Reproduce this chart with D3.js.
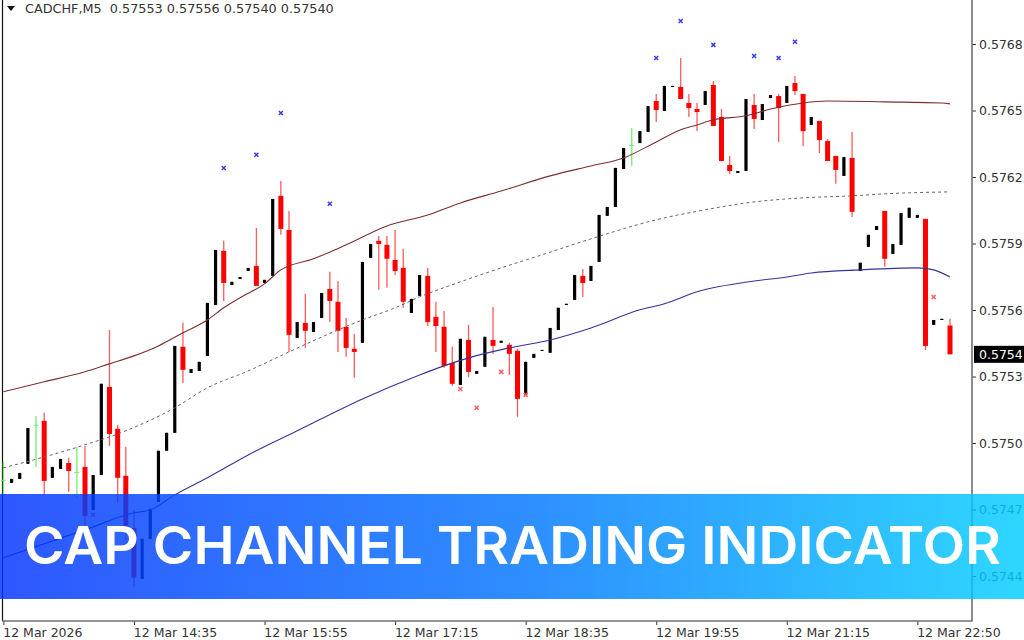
<!DOCTYPE html>
<html>
<head>
<meta charset="utf-8">
<script src="https://cdn.jsdelivr.net/npm/d3@7"></script>
<style>
  html, body { margin: 0; padding: 0; background: #fff; }
  svg { display: block; }
</style>
</head>
<body>
<div id="chart"></div>
<script>
// Chart values
var symbolTitle = 'CADCHF,M5  0.57553 0.57556 0.57540 0.57540';
var bannerTitle = 'CAP CHANNEL TRADING INDICATOR';
var priceTicks = [0.5768, 0.5765, 0.5762, 0.5759, 0.5756, 0.5753, 0.5750, 0.5747, 0.5744];
var lastPrice = 0.5754;
var timeTickBars = [0, 16, 32, 48, 64, 80, 96, 112];
var timeTickLabels = ['12 Mar 2026', '12 Mar 14:35', '12 Mar 15:55', '12 Mar 17:15', '12 Mar 18:35', '12 Mar 19:55', '12 Mar 21:15', '12 Mar 22:50'];

var opens = [0.574834, 0.574820, 0.574838, 0.574906, 0.575082, 0.575100, 0.574843, 0.574883, 0.574910, 0.574870,
  0.574892, 0.574698, 0.574856, 0.575253, 0.575064, 0.574852, 0.574617, 0.574387, 0.574568, 0.574734,
  0.574965, 0.575046, 0.575434, 0.575316, 0.575325, 0.575393, 0.575623, 0.575867, 0.575713, 0.575740,
  0.575776, 0.575799, 0.575722, 0.575754, 0.576115, 0.575961, 0.575474, 0.575542, 0.575501, 0.575564,
  0.575695, 0.575637, 0.575524, 0.575425, 0.575452, 0.575835, 0.575912, 0.575894, 0.575826, 0.575790,
  0.575587, 0.575664, 0.575754, 0.575569, 0.575524, 0.575361, 0.575262, 0.575465, 0.575312, 0.575344,
  0.575465, 0.575452, 0.575443, 0.575416, 0.575217, 0.575384, 0.575416, 0.575407, 0.575510, 0.575623,
  0.575646, 0.575754, 0.575731, 0.575817, 0.576025, 0.576065, 0.576236, 0.576344, 0.576353, 0.576403,
  0.576543, 0.576498, 0.576606, 0.576606, 0.576534, 0.576507, 0.576525, 0.576615, 0.576471, 0.576254,
  0.576218, 0.576227, 0.576525, 0.576457, 0.576556, 0.576565, 0.576534, 0.576624, 0.576575, 0.576435,
  0.576453, 0.576362, 0.576295, 0.576205, 0.576286, 0.575776, 0.575885, 0.575961, 0.576047, 0.575853,
  0.575894, 0.576016, 0.576016, 0.576011, 0.575533, 0.575555, 0.575530];
var highs = [0.574915, 0.574838, 0.574865, 0.575068, 0.575122, 0.575136, 0.574892, 0.574928, 0.574933, 0.574983,
  0.574987, 0.574856, 0.575267, 0.575510, 0.575082, 0.574983, 0.574698, 0.574568, 0.574703, 0.574965,
  0.575046, 0.575438, 0.575542, 0.575334, 0.575366, 0.575632, 0.575871, 0.575912, 0.575727, 0.575749,
  0.575790, 0.575970, 0.575736, 0.576101, 0.576182, 0.576047, 0.575546, 0.575673, 0.575546, 0.575677,
  0.575772, 0.575731, 0.575564, 0.575492, 0.575817, 0.575898, 0.575934, 0.575934, 0.575961, 0.575876,
  0.575650, 0.575758, 0.575790, 0.575637, 0.575596, 0.575434, 0.575470, 0.575533, 0.575325, 0.575479,
  0.575614, 0.575461, 0.575452, 0.575425, 0.575366, 0.575402, 0.575420, 0.575519, 0.575610, 0.575628,
  0.575758, 0.575785, 0.575799, 0.576029, 0.576065, 0.576241, 0.576331, 0.576421, 0.576407, 0.576520,
  0.576575, 0.576611, 0.576611, 0.576737, 0.576575, 0.576534, 0.576588, 0.576633, 0.576507, 0.576295,
  0.576227, 0.576552, 0.576575, 0.576529, 0.576570, 0.576575, 0.576611, 0.576656, 0.576575, 0.576471,
  0.576453, 0.576371, 0.576295, 0.576290, 0.576403, 0.575813, 0.575939, 0.575979, 0.576047, 0.575898,
  0.576038, 0.576061, 0.576029, 0.576011, 0.575555, 0.575560, 0.575560];
var lows = [0.574766, 0.574820, 0.574838, 0.574906, 0.574892, 0.574766, 0.574843, 0.574883, 0.574780, 0.574753,
  0.574608, 0.574698, 0.574856, 0.574987, 0.574730, 0.574554, 0.574351, 0.574387, 0.574568, 0.574734,
  0.574965, 0.575046, 0.575271, 0.575316, 0.575325, 0.575393, 0.575623, 0.575641, 0.575713, 0.575740,
  0.575776, 0.575709, 0.575722, 0.575754, 0.575939, 0.575411, 0.575474, 0.575429, 0.575501, 0.575564,
  0.575546, 0.575411, 0.575389, 0.575294, 0.575452, 0.575835, 0.575691, 0.575700, 0.575758, 0.575610,
  0.575587, 0.575664, 0.575528, 0.575411, 0.575339, 0.575258, 0.575262, 0.575298, 0.575312, 0.575344,
  0.575402, 0.575452, 0.575307, 0.575118, 0.575217, 0.575384, 0.575416, 0.575407, 0.575510, 0.575623,
  0.575646, 0.575659, 0.575731, 0.575817, 0.576025, 0.576065, 0.576236, 0.576250, 0.576353, 0.576403,
  0.576448, 0.576498, 0.576606, 0.576552, 0.576471, 0.576407, 0.576525, 0.576430, 0.576272, 0.576214,
  0.576218, 0.576227, 0.576416, 0.576457, 0.576556, 0.576358, 0.576534, 0.576570, 0.576340, 0.576435,
  0.576308, 0.576272, 0.576169, 0.576205, 0.576020, 0.575776, 0.575885, 0.575961, 0.575795, 0.575853,
  0.575894, 0.576016, 0.576016, 0.575420, 0.575533, 0.575555, 0.575400];
var closes = [0.574834, 0.574838, 0.574865, 0.575068, 0.575082, 0.574829, 0.574892, 0.574928, 0.574874, 0.574870,
  0.574671, 0.574856, 0.575267, 0.575041, 0.574843, 0.574617, 0.574392, 0.574568, 0.574703, 0.574965,
  0.575046, 0.575438, 0.575330, 0.575334, 0.575366, 0.575632, 0.575871, 0.575722, 0.575727, 0.575749,
  0.575790, 0.575709, 0.575736, 0.576101, 0.575966, 0.575488, 0.575546, 0.575506, 0.575546, 0.575677,
  0.575641, 0.575506, 0.575429, 0.575411, 0.575817, 0.575898, 0.575898, 0.575831, 0.575776, 0.575637,
  0.575650, 0.575758, 0.575546, 0.575528, 0.575348, 0.575267, 0.575470, 0.575321, 0.575325, 0.575479,
  0.575438, 0.575461, 0.575402, 0.575199, 0.575366, 0.575402, 0.575420, 0.575519, 0.575610, 0.575628,
  0.575758, 0.575722, 0.575799, 0.576029, 0.576065, 0.576241, 0.576331, 0.576344, 0.576407, 0.576520,
  0.576502, 0.576611, 0.576611, 0.576552, 0.576511, 0.576493, 0.576588, 0.576430, 0.576272, 0.576227,
  0.576227, 0.576552, 0.576462, 0.576529, 0.576570, 0.576511, 0.576611, 0.576588, 0.576407, 0.576471,
  0.576367, 0.576272, 0.576232, 0.576290, 0.576043, 0.575813, 0.575939, 0.575979, 0.575831, 0.575898,
  0.576038, 0.576061, 0.576029, 0.575438, 0.575555, 0.575560, 0.575400];
// bars drawn as thin green crosses
var greenBars = [0, 4, 9, 77];

// channel lines, values at the bars where they were read
var upperBars = [0, 5, 10, 13, 16, 19, 22, 25, 27, 29, 32, 34, 38, 42, 47, 52, 56, 61, 67, 72, 76, 80, 83, 85, 87, 91, 94, 98, 101, 108, 115, 116];
var upperValues = [0.575231, 0.575276, 0.575321, 0.575357, 0.575393, 0.575438, 0.575497, 0.575555, 0.575610, 0.575655, 0.575718, 0.575781, 0.575831, 0.575894, 0.575979, 0.576029, 0.576083, 0.576137, 0.576205, 0.576250, 0.576286, 0.576358, 0.576413, 0.576435, 0.576458, 0.576476, 0.576507, 0.576534, 0.576543, 0.576539, 0.576534, 0.576530];
var middleBars = [0, 5, 10, 14, 21, 25, 30, 35, 41, 44, 48, 51, 56, 61, 66, 72, 80, 86, 91, 98, 104, 108, 116];
var middleValues = [0.574888, 0.574937, 0.574992, 0.575041, 0.575159, 0.575249, 0.575325, 0.575411, 0.575510, 0.575555, 0.575610, 0.575659, 0.575727, 0.575790, 0.575849, 0.575921, 0.576007, 0.576052, 0.576083, 0.576106, 0.576115, 0.576124, 0.576133];
var lowerBars = [0, 10, 16, 18, 21, 25, 30, 36, 44, 51, 54, 57, 62, 67, 72, 78, 81, 85, 92, 96, 99, 105, 112, 114, 116];
var lowerValues = [0.574482, 0.574608, 0.574685, 0.574698, 0.574766, 0.574843, 0.574946, 0.575055, 0.575199, 0.575307, 0.575348, 0.575384, 0.575429, 0.575465, 0.575519, 0.575601, 0.575628, 0.575682, 0.575731, 0.575749, 0.575767, 0.575781, 0.575790, 0.575781, 0.575749];

// signal crosses above and below the candles
var sellSignalBars = [27, 31, 34, 40, 80, 83, 87, 92, 95, 97];
var sellSignalValues = [0.576241, 0.576300, 0.576489, 0.576079, 0.576737, 0.576904, 0.576796, 0.576746, 0.576737, 0.576810];
var buySignalBars = [11, 56, 58, 61, 64, 114];
var buySignalValues = [0.574676, 0.575244, 0.575159, 0.575321, 0.575217, 0.575659];

var svgWidth = 1024;
var svgHeight = 640;
var axisRightX = 972;
var axisBottomY = 621;

var svg = d3.select('#chart')
  .append('svg')
  .attr('width', svgWidth)
  .attr('height', svgHeight)
  .style('font-family', '"DejaVu Sans", sans-serif');

var xScale = d3.scaleLinear().domain([0, 116]).range([3.4, 950]);
var yScale = d3.scaleLinear().domain([0.5768, 0.5744]).range([44, 576]);

var grad = svg.append('defs').append('linearGradient')
  .attr('id', 'bannerFill')
  .attr('x1', '0').attr('x2', '1').attr('y1', '0').attr('y2', '0');
grad.append('stop').attr('offset', '0').attr('stop-color', '#0032ff');
grad.append('stop').attr('offset', '0.5').attr('stop-color', '#0073ff');
grad.append('stop').attr('offset', '1').attr('stop-color', '#00ceff');

// frame
svg.append('line')
  .attr('x1', 2.5).attr('x2', 2.5).attr('y1', 0).attr('y2', axisBottomY)
  .attr('stroke', '#111').attr('stroke-width', 1.2);

// axes
var rightAxis = d3.axisRight(yScale)
  .tickValues(priceTicks)
  .tickFormat(d3.format('.4f'))
  .tickSize(4)
  .tickPadding(3);
var axisR = svg.append('g')
  .attr('transform', `translate(${axisRightX}, 0)`)
  .call(rightAxis);
axisR.select('.domain').remove();
axisR.selectAll('text').attr('font-size', 12.5).attr('font-family', '"DejaVu Sans", sans-serif').attr('fill', '#333');
axisR.selectAll('line').attr('stroke', '#333');

var bottomAxis = d3.axisBottom(xScale)
  .tickValues(timeTickBars)
  .tickFormat(function(d, i) { return timeTickLabels[i]; })
  .tickSize(4)
  .tickPadding(3);
var axisB = svg.append('g')
  .attr('transform', `translate(0, ${axisBottomY})`)
  .call(bottomAxis);
axisB.select('.domain').remove();
axisB.selectAll('text')
  .attr('font-size', 12.5)
  .attr('font-family', '"DejaVu Sans", sans-serif')
  .attr('fill', '#333')
  .attr('dx', -0.7)
  .attr('text-anchor', 'start');
axisB.selectAll('line').attr('stroke', '#333');

svg.append('path')
  .attr('d', `M${axisRightX},0V${axisBottomY}H2`)
  .attr('fill', 'none')
  .attr('stroke', '#707070')
  .attr('stroke-width', 1.6);

// candles
var bars = d3.range(opens.length);

var barColor = function(i) {
  if (greenBars.indexOf(i) >= 0) return '#74ee74';
  return closes[i] < opens[i] ? '#ff0000' : '#000000';
};

svg.append('g').selectAll('line')
  .data(bars)
  .enter()
  .append('line')
  .attr('x1', i => xScale(i))
  .attr('x2', i => xScale(i))
  .attr('y1', i => yScale(highs[i]))
  .attr('y2', i => yScale(lows[i]))
  .attr('stroke', i => closes[i] < opens[i] ? '#ff5a5a' : barColor(i))
  .attr('stroke-width', 1.3);

svg.append('g').selectAll('rect')
  .data(bars)
  .enter()
  .append('rect')
  .attr('x', function(i) {
    var w = greenBars.indexOf(i) >= 0 ? 5 : (closes[i] < opens[i] ? 5 : 3.2);
    return xScale(i) - w / 2;
  })
  .attr('width', function(i) {
    return greenBars.indexOf(i) >= 0 ? 5 : (closes[i] < opens[i] ? 5 : 3.2);
  })
  .attr('y', i => yScale(Math.max(opens[i], closes[i])))
  .attr('height', i => Math.max(1, Math.abs(yScale(opens[i]) - yScale(closes[i]))))
  .attr('fill', barColor);

// channel lines
var channelLine = function(barList, values) {
  return d3.line()
    .x(function(d, i) { return xScale(barList[i]); })
    .y(function(d) { return yScale(d); })
    .curve(d3.curveMonotoneX)(values);
};

svg.append('path')
  .attr('d', channelLine(upperBars, upperValues))
  .attr('fill', 'none')
  .attr('stroke', '#7d2f2f')
  .attr('stroke-width', 1.1);

svg.append('path')
  .attr('d', channelLine(middleBars, middleValues))
  .attr('fill', 'none')
  .attr('stroke', '#666')
  .attr('stroke-width', 1)
  .attr('stroke-dasharray', '3,3');

svg.append('path')
  .attr('d', channelLine(lowerBars, lowerValues))
  .attr('fill', 'none')
  .attr('stroke', '#34349a')
  .attr('stroke-width', 1.1);

// signal crosses
var drawCrosses = function(barList, values, color) {
  svg.append('g').selectAll('path')
    .data(barList)
    .enter()
    .append('path')
    .attr('transform', function(d, i) {
      return `translate(${xScale(d)}, ${yScale(values[i])})`;
    })
    .attr('d', 'M-2,-2L2,2M-2,2L2,-2')
    .attr('fill', 'none')
    .attr('stroke', color)
    .attr('stroke-width', 1.5);
};

drawCrosses(sellSignalBars, sellSignalValues, '#3a3af5');
drawCrosses(buySignalBars, buySignalValues, '#ff5a5a');

// symbol line at the top
svg.append('path')
  .attr('d', 'M7,6H15L11,11Z')
  .attr('fill', '#111');
svg.append('text')
  .attr('x', 25)
  .attr('y', 13)
  .attr('font-size', 12.8)
  .attr('fill', '#333')
  .attr('xml:space', 'preserve')
  .text(symbolTitle);

// last price flag
svg.append('rect')
  .attr('x', 974)
  .attr('y', yScale(lastPrice) - 8.5)
  .attr('width', 50)
  .attr('height', 17)
  .attr('fill', '#000');
svg.append('text')
  .attr('x', 979)
  .attr('y', yScale(lastPrice) + 4.5)
  .attr('font-size', 12.5)
  .attr('fill', '#fff')
  .text(d3.format('.4f')(lastPrice));

// banner over the chart
svg.append('rect')
  .attr('x', 0)
  .attr('y', 494)
  .attr('width', svgWidth)
  .attr('height', 105)
  .attr('fill', 'url(#bannerFill)')
  .attr('opacity', 0.82);

svg.append('text')
  .attr('x', 24)
  .attr('y', 564)
  .attr('font-family', 'Inter, sans-serif')
  .attr('font-size', 52)
  .attr('font-weight', 600)
  .attr('fill', '#fff')
  .attr('textLength', 977)
  .attr('lengthAdjust', 'spacingAndGlyphs')
  .text(bannerTitle);
</script>
</body>
</html>
